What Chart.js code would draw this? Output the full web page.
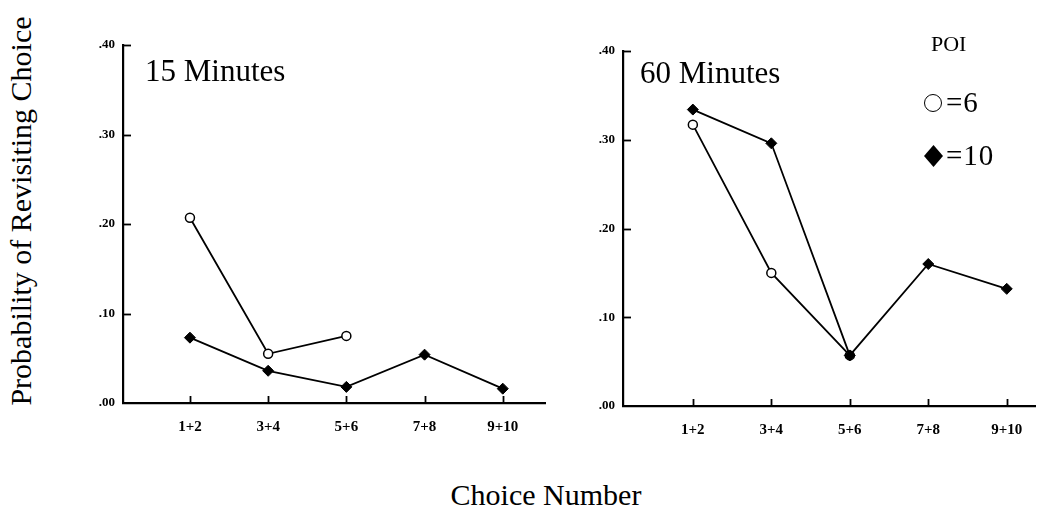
<!DOCTYPE html>
<html>
<head>
<meta charset="utf-8">
<script src="https://cdn.jsdelivr.net/npm/chart.js@4.4.1/dist/chart.umd.min.js"></script>
<style>
  html, body { margin: 0; padding: 0; background: #fff; }
  body { width: 1058px; height: 519px; position: relative; overflow: hidden;
         font-family: "Liberation Serif", "Times New Roman", serif; color: #000; }
  canvas { position: absolute; }
  .txt { position: absolute; line-height: 1; white-space: nowrap; }
</style>
</head>
<body>
<canvas id="c15" width="500" height="420" style="left:60px;top:20px;"></canvas>
<canvas id="c60" width="498" height="423" style="left:560px;top:20px;"></canvas>

<div class="txt" style="left:145px;top:55px;font-size:31px;">15 Minutes</div>
<div class="txt" style="left:640px;top:57px;font-size:31px;">60 Minutes</div>

<div class="txt" style="left:931px;top:33px;font-size:22px;">POI</div>
<div style="position:absolute;left:924px;top:94px;width:16px;height:16px;border:1.8px solid #000;border-radius:50%;"></div>
<div class="txt" style="left:946px;top:88px;font-size:29px;letter-spacing:1px;">=6</div>
<div style="position:absolute;left:924px;top:145px;width:19px;height:22px;background:#000;clip-path:polygon(50% 0,100% 50%,50% 100%,0 50%);"></div>
<div class="txt" style="left:946px;top:141px;font-size:29px;letter-spacing:1px;">=10</div>

<div class="txt" style="left:21px;top:211px;font-size:30px;transform:translate(-50%,-50%) rotate(-90deg);">Probability of Revisiting Choice</div>
<div class="txt" style="left:546px;top:480px;font-size:30px;transform:translateX(-50%);">Choice Number</div>

<script>
// ---- data ----
const categories = ['1+2', '3+4', '5+6', '7+8', '9+10'];
const yTickValues = [0, 0.1, 0.2, 0.3, 0.4];
const min15_poi6  = [0.207, 0.055, 0.075, null, null];
const min15_poi10 = [0.073, 0.036, 0.018, 0.054, 0.016];
const min60_poi6  = [0.317, 0.150, 0.057, null, null];
const min60_poi10 = [0.334, 0.296, 0.057, 0.160, 0.132];

const FONT = '"Liberation Serif", "Times New Roman", serif';

function toPoints(arr) {
  return arr.map((v, i) => ({ x: i, y: v }));
}

const inwardTicks = {
  id: 'inwardTicks',
  beforeDatasetsDraw(chart) {
    const { ctx, chartArea, scales: { x, y } } = chart;
    ctx.save();
    ctx.strokeStyle = '#000';
    ctx.lineWidth = 1.8;
    y.ticks.forEach(t => {
      if (t.value === 0) return;
      const py = Math.round(y.getPixelForValue(t.value)) + 0.5;
      ctx.beginPath();
      ctx.moveTo(chartArea.left, py);
      ctx.lineTo(chartArea.left + 8, py);
      ctx.stroke();
    });
    x.ticks.forEach(t => {
      const px = Math.round(x.getPixelForValue(t.value)) + 0.5;
      ctx.beginPath();
      ctx.moveTo(px, chartArea.bottom);
      ctx.lineTo(px, chartArea.bottom - 7);
      ctx.stroke();
    });
    ctx.restore();
  }
};

function makeChart(id, poi6, poi10, xmin, xmax, padTop, padRight) {
  return new Chart(document.getElementById(id), {
    type: 'line',
    data: {
      datasets: [
        {
          label: 'POI = 10',
          data: toPoints(poi10),
          borderColor: '#000',
          borderWidth: 1.8,
          backgroundColor: '#000',
          pointStyle: 'rectRot',
          pointRadius: 5.5,
          pointBorderWidth: 1,
          pointBorderColor: '#000',
          pointBackgroundColor: '#000',
          tension: 0,
          spanGaps: false
        },
        {
          label: 'POI = 6',
          data: toPoints(poi6),
          borderColor: '#000',
          borderWidth: 1.8,
          backgroundColor: '#fff',
          pointStyle: 'circle',
          pointRadius: 4.5,
          pointBorderWidth: 1.5,
          pointBorderColor: '#000',
          pointBackgroundColor: '#fff',
          tension: 0,
          spanGaps: false
        }
      ]
    },
    options: {
      responsive: false,
      animation: false,
      devicePixelRatio: 1,
      layout: { padding: { left: 0, right: padRight, top: padTop, bottom: 0 } },
      plugins: { legend: { display: false }, tooltip: { enabled: false }, title: { display: false } },
      scales: {
        x: {
          type: 'linear',
          min: xmin,
          max: xmax,
          grid: { display: false, drawTicks: false },
          border: { display: true, color: '#000', width: 2.2 },
          afterBuildTicks: s => { s.ticks = categories.map((c, i) => ({ value: i })); },
          afterFit: s => { s.height = 37; },
          ticks: {
            autoSkip: false,
            maxRotation: 0,
            padding: 15,
            color: '#000',
            font: { family: FONT, size: 15, weight: 'bold' },
            callback: v => categories[v]
          }
        },
        y: {
          type: 'linear',
          min: 0,
          max: 0.4,
          grid: { display: false, drawTicks: false },
          border: { display: true, color: '#000', width: 2.2 },
          afterBuildTicks: s => { s.ticks = yTickValues.map(v => ({ value: v })); },
          afterFit: s => { s.width = 63; },
          ticks: {
            padding: 8,
            color: '#000',
            font: { family: FONT, size: 13, weight: 'bold' },
            callback: v => Number(v).toFixed(2).replace(/^0/, '')
          }
        }
      }
    },
    plugins: [inwardTicks]
  });
}

makeChart('c15', min15_poi6, min15_poi10, -0.856, 4.54, 25, 15);
makeChart('c60', min60_poi6, min60_poi10, -0.89, 4.36, 31, 23);
</script>
</body>
</html>
